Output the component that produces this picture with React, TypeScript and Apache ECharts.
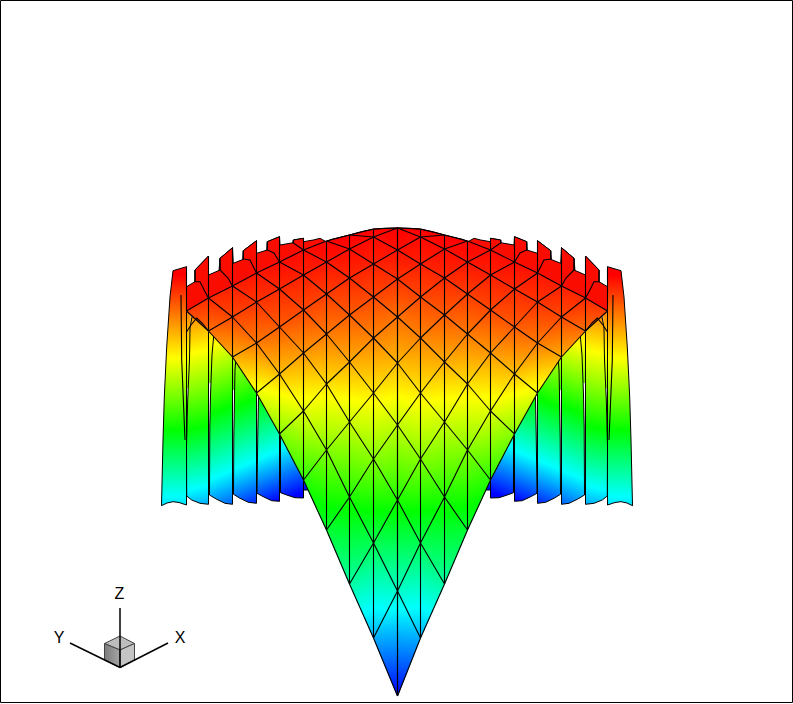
import React, { useEffect, useRef } from "react";
import * as echarts from "echarts";

// Screen-plane mesh of the surface, column by column away from the centre line.
const columnOffsets = [0, 24, 48, 71, 94, 118, 141, 165, 189, 211];
const columnY = [
  [696, 591, 500, 425, 363, 317, 279, 250, 228],
  [638, 543, 459, 393, 338, 297, 264, 237, 229],
  [584, 497, 422, 362, 315, 278, 249, 235],
  [530, 450, 384, 334, 294, 262, 241],
  [480, 411, 353, 310, 275, 250],
  [434, 374, 327, 289, 262],
  [393, 343, 302, 273],
  [357, 317, 286],
  [331, 298],
  [311],
];
const columnLevel = [
  [0, 0.3, 0.53, 0.69, 0.82, 0.89, 0.95, 0.985, 1],
  [0.17, 0.42, 0.63, 0.77, 0.87, 0.93, 0.97, 0.99, 1],
  [0.34, 0.53, 0.7, 0.83, 0.91, 0.96, 0.99, 1],
  [0.45, 0.63, 0.78, 0.88, 0.94, 0.98, 1],
  [0.54, 0.72, 0.85, 0.93, 0.97, 0.99],
  [0.63, 0.81, 0.91, 0.96, 0.99],
  [0.73, 0.88, 0.95, 0.98],
  [0.83, 0.93, 0.97],
  [0.89, 0.96],
  [0.94],
];
const rainbow = ["#0000ff", "#00ffff", "#00ff00", "#ffff00", "#ff0000"];

// Red back band outline (left half), from the corner to the crest.
const backEdge: number[][] = [
  [186.5, 311], [186.5, 286.7], [195, 281.7], [195, 270], [208.5, 256], [208.5, 275], [220, 270], [220, 258.3],
  [232.5, 247.7], [233.3, 263.3], [243.3, 259.3], [243.3, 250.7], [256.5, 240.7], [256.5, 253.3], [267.3, 250],
  [267.3, 241.7], [279.5, 236.7], [280, 245], [293.3, 242.7], [293.3, 240], [303.5, 238.3], [303.5, 241.7],
  [313.3, 240], [320, 238.3], [326, 241.7], [331.7, 239.3], [349.5, 235], [361.5, 231.6], [373.5, 229.2], [385, 228.2], [397, 228],
];

// Folded wall strips (left half); outlines and the y of each rainbow level at mid strip.
const wallOutlines: number[][][] = [
  [[173, 270.7], [186.5, 266.7], [186.5, 505], [179, 502.5], [173, 501.7], [167, 503], [161.5, 505.7], [163, 440], [164.3, 397], [166.7, 347], [170, 297]],
  [[195, 270], [208.5, 256], [208.5, 504.3], [200, 503.3], [191.7, 500], [186.7, 496], [186.5, 447], [187.7, 400], [189.5, 360], [190, 328], [195, 300]],
  [[220, 258.3], [232.5, 247.7], [232.5, 504.3], [225, 503.3], [216.7, 499.3], [209.5, 495], [209.8, 427], [210.5, 395], [212, 355], [213.5, 338], [216, 310]],
  [[243.3, 250.7], [256.5, 240.7], [256.5, 503.3], [248.3, 502.3], [240, 498.3], [233.5, 494.3], [233.8, 437], [234.5, 395], [235, 370], [240, 300]],
  [[267.3, 241.7], [279.5, 236.7], [279.5, 501.3], [271.7, 500.7], [263.3, 496.7], [257, 493.3], [257.8, 433], [258.5, 397], [262, 330]],
  [[293.3, 240], [303.5, 238.3], [303.5, 498], [295, 497.7], [286.7, 495], [280.5, 492.7], [280.5, 435], [282, 400], [287, 320]],
  [[303.5, 470], [322, 470], [322, 490], [303.5, 490]],
];
const wallLevels = [
  [560, 497, 430, 358, 275],
  [545, 488, 428, 352, 270],
  [530, 475, 410, 342, 265],
  [515, 465, 403, 335, 265],
  [505, 455, 395, 330, 265],
  [497, 443, 385, 325, 265],
  [490, 440, 385, 325, 265],
];
const wallTilt = [0, 0.2, 0.4, 0.4, 0.4, 0.4, 0];

// Coloured slivers seen between neighbouring strips, painted underneath them.
const gapOutlines: number[][][] = [
  [[186, 300], [191, 300], [190, 388], [186, 388]],
  [[208, 300], [215, 300], [212, 383], [208, 383]],
  [[232, 340], [238, 340], [236, 390], [232, 390]],
];
const gapWall = [1, 2, 3];

// Creases and fold lines on the back band and walls (left half).
const foldLines: number[][][] = [
  [[186.5, 266.7], [186.5, 311]],
  [[208.5, 256], [208.5, 298]],
  [[232.5, 247.7], [232.5, 286]],
  [[256.5, 240.7], [256.5, 273]],
  [[279.5, 236.7], [279.5, 262]],
  [[303.5, 238.3], [303.5, 250]],
  [[195, 270], [195, 281.7], [200, 281.7], [205, 291.7], [208.5, 298]],
  [[220, 258.3], [220, 270], [228, 278], [232.5, 286]],
  [[243.3, 250.7], [243.3, 259], [250, 260], [256.5, 273]],
  [[267.3, 241.7], [267.3, 250], [274, 253], [279.5, 262]],
  [[293.3, 240], [293.3, 243], [303.5, 250]],
  [[186.7, 331.7], [191, 325], [196.7, 318], [202, 323], [208.5, 331]],
  [[181, 295], [181.7, 360], [185, 440]],
];

const axisLabels = ["X", "Y", "Z"];

const mid = 794;
const colX = (k: number) => 397.5 - columnOffsets[k];
const node = (k: number, i: number, side: number) => [
  side > 0 || k === 0 ? colX(k) : mid - colX(k),
  columnY[k][i],
  columnLevel[k][i],
];
const has = (k: number, i: number) => k < columnY.length && i < columnY[k].length;
const flip = (pts: number[][]) => pts.map((p) => [mid - p[0], p[1]]);

function rainbowAt(z: number) {
  const t = Math.max(0, Math.min(1, z)) * 4;
  const s = Math.min(3, Math.floor(t));
  const a = echarts.color.parse(rainbow[s]);
  const b = echarts.color.parse(rainbow[s + 1]);
  const f = t - s;
  return `rgb(${[0, 1, 2].map((c) => Math.round(a[c] + (b[c] - a[c]) * f)).join(",")})`;
}

const triangles: number[][][] = [];
const meshLines: number[][][] = [];
[1, -1].forEach((side) => {
  columnY.forEach((col, k) => {
    col.forEach((_, i) => {
      if (has(k + 1, i) && has(k, i + 1)) triangles.push([node(k, i, side), node(k + 1, i, side), node(k, i + 1, side)]);
      if (k > 0 && has(k, i + 1) && has(k - 1, i + 1)) triangles.push([node(k, i, side), node(k, i + 1, side), node(k - 1, i + 1, side)]);
      if (has(k, i + 1)) meshLines.push([node(k, i, side), node(k, i + 1, side)]);
      if (has(k + 1, i)) {
        meshLines.push([node(k, i, side), node(k + 1, i, side)]);
        if (has(k, i + 1)) meshLines.push([node(k + 1, i, side), node(k, i + 1, side)]);
      }
    });
  });
});

type Wall = { pts: number[][]; levels: number[]; tilt: number; side: number; border: boolean };
const walls: Wall[] = [
  ...gapOutlines.map((pts, n) => ({ pts, levels: wallLevels[gapWall[n]], tilt: wallTilt[gapWall[n]], side: 1, border: false })),
  ...gapOutlines.map((pts, n) => ({ pts: flip(pts), levels: wallLevels[gapWall[n]], tilt: wallTilt[gapWall[n]], side: -1, border: false })),
  ...wallOutlines.map((pts, n) => ({ pts, levels: wallLevels[n], tilt: wallTilt[n], side: 1, border: true })),
  ...wallOutlines.map((pts, n) => ({ pts: flip(pts), levels: wallLevels[n], tilt: wallTilt[n], side: -1, border: true })),
];
const backBand = [...backEdge, ...flip(backEdge).reverse().slice(1), ...[
  ...columnY.map((_, k) => node(k, columnY[k].length - 1, -1)).reverse(),
  ...columnY.map((_, k) => node(k, columnY[k].length - 1, 1)).slice(1),
]];
const allFolds = [...foldLines, ...foldLines.map(flip)];
const outline = [...backEdge, ...flip(backEdge).reverse().slice(1)];

const stops = (offs: number[]) => rainbow.map((color, n) => ({ offset: offs[n], color }));

function triangleFill(p: number[][], z: number[]) {
  const [e1x, e1y, e2x, e2y] = [p[1][0] - p[0][0], p[1][1] - p[0][1], p[2][0] - p[0][0], p[2][1] - p[0][1]];
  const [d1, d2] = [z[1] - z[0], z[2] - z[0]];
  const det = e1x * e2y - e2x * e1y;
  const gx = (d1 * e2y - d2 * e1y) / det;
  const gy = (e1x * d2 - e2x * d1) / det;
  const g2 = gx * gx + gy * gy;
  if (g2 < 1e-7) return rainbowAt((z[0] + z[1] + z[2]) / 3);
  const s0 = (0 - z[0]) / g2;
  const s1 = (1 - z[0]) / g2;
  return new echarts.graphic.LinearGradient(
    p[0][0] + gx * s0, p[0][1] + gy * s0, p[0][0] + gx * s1, p[0][1] + gy * s1,
    stops([0, 0.25, 0.5, 0.75, 1]), true
  );
}

function wallFill(api: any, w: Wall) {
  const xs = w.pts.map((p) => p[0]);
  const xc = (Math.min(...xs) + Math.max(...xs)) / 2;
  const [y0, y4] = [w.levels[0], w.levels[4]];
  const ut = w.tilt * w.side;
  const n = Math.sqrt(1 + ut * ut);
  const len = (y4 - y0) / n;
  const a = api.coord([xc, y0]);
  const offs = w.levels.map((y) => (y - y0) / (y4 - y0));
  return new echarts.graphic.LinearGradient(a[0], a[1], a[0] + (ut / n) * len, a[1] + (1 / n) * len, stops(offs), true);
}

const polySeries = (count: number, make: (i: number, api: any) => any) => ({
  type: "custom",
  silent: true,
  coordinateSystem: "cartesian2d",
  clip: false,
  data: Array.from({ length: count }, (_, i) => [i, i]),
  encode: { x: 0, y: 1 },
  renderItem: (params: any, api: any) => make(params.dataIndex, api),
});
const coords = (api: any, pts: number[][]) => pts.map((p) => api.coord([p[0], p[1]]));
const lineEl = (api: any, pts: number[][], lineWidth = 1) => ({
  type: "polyline",
  shape: { points: coords(api, pts) },
  style: { stroke: "#000", fill: "none", lineWidth },
});

export default function App() {
  const ref = useRef<HTMLDivElement>(null);
  useEffect(() => {
    document.body.style.margin = "0";
    const chart = echarts.init(ref.current!, undefined, { renderer: "svg" });
    const origin = [120, 667.5];
    chart.setOption({
      animation: false,
      backgroundColor: "#fff",
      grid: { left: 0, right: 0, top: 0, bottom: 0 },
      xAxis: { type: "value", min: 0, max: 793, show: false },
      yAxis: { type: "value", min: 0, max: 704, inverse: true, show: false },
      series: [
        polySeries(walls.length, (i, api) => ({
          type: "polygon",
          shape: { points: coords(api, walls[i].pts) },
          style: { fill: wallFill(api, walls[i]), stroke: walls[i].border ? "#000" : "none", lineWidth: 1 },
        })),
        polySeries(1, (_, api) => ({
          type: "polygon",
          shape: { points: coords(api, backBand) },
          style: { fill: "#fb0c00", stroke: "none" },
        })),
        polySeries(triangles.length, (i, api) => {
          const t = triangles[i];
          const p = coords(api, t);
          const fill = triangleFill(p, t.map((v) => v[2]));
          return { type: "polygon", shape: { points: p }, style: { fill, stroke: fill, lineWidth: 0.7 } };
        }),
        polySeries(allFolds.length, (i, api) => lineEl(api, allFolds[i], 1.1)),
        polySeries(meshLines.length, (i, api) => lineEl(api, meshLines[i], 1.1)),
        polySeries(1, (_, api) => lineEl(api, outline)),
      ],
      graphic: [
        { type: "rect", shape: { x: 0.5, y: 0.5, width: 792, height: 702 }, style: { fill: "none", stroke: "#000", lineWidth: 1 } },
        { type: "polygon", shape: { points: [[120, 636], [104.5, 643.5], [120, 650], [134.5, 643.5]] }, style: { fill: "#bdbdbd", stroke: "#444", lineWidth: 1 } },
        {
          type: "polygon",
          shape: { points: [[104.5, 643.5], [120, 650], [120, 667.5], [104.5, 660]] },
          style: { fill: new echarts.graphic.LinearGradient(0, 0, 1, 0, [{ offset: 0, color: "#7c7c7c" }, { offset: 1, color: "#a4a4a4" }]), stroke: "#444", lineWidth: 1 },
        },
        { type: "polygon", shape: { points: [[120, 650], [134.5, 643.5], [134.5, 660], [120, 667.5]] }, style: { fill: "#c4c4c4", stroke: "#444", lineWidth: 1 } },
        { type: "line", shape: { x1: origin[0], y1: origin[1], x2: 168, y2: 643 }, style: { stroke: "#000", lineWidth: 1.5 } },
        { type: "line", shape: { x1: origin[0], y1: origin[1], x2: 70, y2: 643 }, style: { stroke: "#000", lineWidth: 1.5 } },
        { type: "line", shape: { x1: origin[0], y1: origin[1], x2: 120, y2: 608 }, style: { stroke: "#000", lineWidth: 1.5 } },
        ...[[180, 637], [59, 637], [119.5, 593.5]].map((p, n) => ({
          type: "text",
          x: p[0],
          y: p[1],
          style: { text: axisLabels[n], fill: "#000", font: "16px 'Liberation Sans'", align: "center", verticalAlign: "middle" },
        })),
      ],
    });
    return () => chart.dispose();
  }, []);
  return <div ref={ref} style={{ width: 793, height: 704 }} />;
}
